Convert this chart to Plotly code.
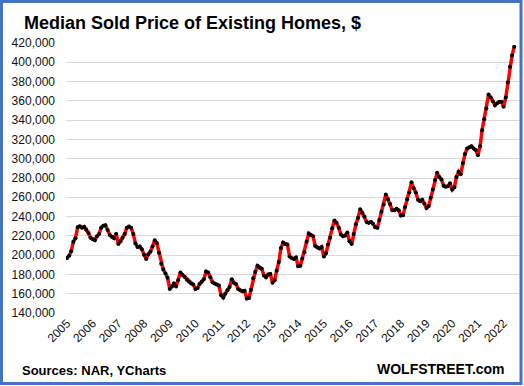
import pandas as pd
import plotly.graph_objects as go

# Median sold price of existing homes, monthly, $ thousands
y2005 = [197.1, 199.5, 204.0, 214.0, 217.5, 229.0, 230.0, 228.5, 229.5, 226.5, 223.0, 218.0]
y2006 = [216.5, 215.5, 219.5, 222.0, 228.5, 230.5, 231.0, 226.0, 221.0, 219.0, 217.5, 222.3]
y2007 = [211.5, 214.5, 218.0, 222.0, 228.5, 229.8, 228.5, 222.0, 212.0, 208.5, 209.0, 206.0]
y2008 = [200.5, 196.0, 201.0, 203.5, 209.0, 215.5, 212.5, 202.5, 191.0, 185.0, 181.0, 176.5]
y2009 = [165.0, 167.5, 170.5, 167.5, 174.0, 182.0, 179.5, 177.5, 174.5, 172.5, 170.5, 169.5]
y2010 = [165.0, 166.0, 170.0, 172.5, 175.0, 183.0, 182.0, 177.0, 172.0, 170.5, 169.5, 168.5]
y2011 = [158.5, 156.0, 160.0, 163.5, 167.0, 175.0, 171.5, 170.0, 165.0, 163.5, 162.5, 163.0]
y2012 = [155.0, 155.5, 164.0, 176.0, 182.5, 189.0, 187.0, 186.0, 179.0, 177.0, 180.0, 180.5]
y2013 = [171.5, 174.0, 184.0, 193.0, 207.5, 213.0, 211.5, 211.0, 198.5, 197.0, 196.0, 197.5]
y2014 = [188.5, 189.0, 196.5, 203.0, 214.0, 222.5, 221.0, 219.5, 209.5, 208.0, 207.0, 208.5]
y2015 = [198.5, 202.0, 211.0, 218.0, 228.0, 236.0, 233.5, 228.5, 221.5, 219.5, 220.5, 223.5]
y2016 = [214.5, 211.5, 222.0, 232.0, 238.5, 247.5, 244.0, 240.0, 234.5, 233.5, 234.5, 232.5]
y2017 = [229.0, 228.5, 236.5, 245.0, 252.5, 263.0, 258.0, 253.0, 246.5, 246.5, 248.0, 246.5]
y2018 = [241.0, 241.5, 250.0, 258.0, 265.0, 275.5, 269.5, 265.0, 257.5, 256.0, 257.5, 253.5]
y2019 = [249.0, 251.0, 259.5, 268.0, 278.0, 285.5, 281.0, 278.5, 272.0, 271.0, 271.5, 274.5]
y2020 = [268.0, 270.5, 281.0, 286.5, 284.0, 295.5, 305.0, 310.5, 312.0, 313.0, 310.5, 309.0]
y2021 = [303.5, 313.0, 329.5, 341.0, 352.0, 366.5, 363.5, 359.5, 355.5, 357.5, 359.0, 359.0]
y2022 = [354.0, 363.5, 379.0, 395.5, 407.0, 416.0]

years = [y2005, y2006, y2007, y2008, y2009, y2010, y2011, y2012, y2013,
         y2014, y2015, y2016, y2017, y2018, y2019, y2020, y2021, y2022]
prices = [v * 1000 for yr in years for v in yr]
dates = pd.date_range("2005-01-01", periods=len(prices), freq="MS")

tick_years = [str(y) for y in range(2005, 2023)]
tick_vals = [f"{y}-01-01" for y in tick_years]
y_ticks = list(range(140000, 420001, 20000))

W, H = 524, 386
ML, MR, MT, MB = 66, 5, 43, 73
PW, PH = W - ML - MR, H - MT - MB

def px(x):
    return (x - ML) / PW

def py(y):
    return (H - MB - y) / PH

fig = go.Figure()
fig.add_trace(go.Scatter(
    x=dates, y=prices, mode="lines+markers",
    line=dict(color="#FF0000", width=3.5),
    marker=dict(color="#000000", size=4),
    hoverinfo="x+y", showlegend=False,
))

fig.update_layout(
    width=W, height=H,
    margin=dict(l=ML, r=MR, t=MT, b=MB, autoexpand=False),
    paper_bgcolor="white", plot_bgcolor="white",
    font=dict(family="Liberation Sans", color="#111111"),
    xaxis=dict(
        range=["2004-12-17", "2022-08-08"], automargin=False,
        tickvals=tick_vals, ticktext=tick_years, tickangle=-45,
        showgrid=False, zeroline=False, showline=False, ticks="",
        tickfont=dict(size=12, color="#111111"),
    ),
    yaxis=dict(
        range=[140000, 420000], tickvals=y_ticks, automargin=False,
        tickformat=",d", showgrid=True, gridcolor="#D9D9D9", gridwidth=1,
        zeroline=False, showline=False, ticks="", ticklabelstandoff=10,
        tickfont=dict(size=12, color="#111111"),
    ),
    shapes=[dict(
        type="rect", xref="paper", yref="paper",
        x0=px(1.5), x1=px(521), y0=py(383.5), y1=py(1.5),
        line=dict(color="#4472C4", width=3), fillcolor="rgba(0,0,0,0)",
        layer="above",
    )],
    annotations=[
        dict(text="<b>Median Sold Price of Existing Homes, $</b>",
             xref="paper", yref="paper", x=px(22), y=py(23),
             xanchor="left", yanchor="middle", showarrow=False,
             font=dict(size=18, color="#000000")),
        dict(text="<b>Sources: NAR, YCharts</b>",
             xref="paper", yref="paper", x=px(20), y=py(370),
             xanchor="left", yanchor="middle", showarrow=False,
             font=dict(size=13, color="#000000")),
        dict(text="<b>WOLFSTREET.com</b>",
             xref="paper", yref="paper", x=px(507), y=py(369),
             xanchor="right", yanchor="middle", showarrow=False,
             font=dict(size=14, color="#000000")),
    ],
)

fig.write_html("out.html", config={"displayModeBar": False},
               post_script="document.body.style.margin='0';")
